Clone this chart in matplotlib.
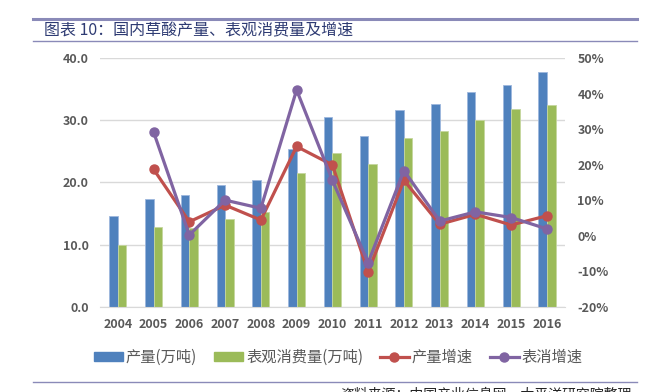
import numpy as np
import matplotlib.pyplot as plt
from matplotlib.lines import Line2D
from matplotlib.patches import Patch

plt.rcParams['font.family'] = ['Noto Sans CJK SC', 'DejaVu Sans']

years = ['2004', '2005', '2006', '2007', '2008', '2009', '2010',
         '2011', '2012', '2013', '2014', '2015', '2016']
output = [14.6, 17.3, 17.9, 19.5, 20.3, 25.4, 30.5, 27.4, 31.6, 32.6, 34.6, 35.7, 37.7]
consumption = [10.0, 12.8, 12.7, 14.1, 15.2, 21.5, 24.8, 22.9, 27.1, 28.3, 30.1, 31.8, 32.4]
output_growth = [np.nan, 18.7, 3.9, 8.6, 4.4, 25.1, 19.9, -10.2, 15.6, 3.2, 6.0, 3.0, 5.6]
cons_growth = [np.nan, 29.2, 0.2, 10.0, 7.7, 41.0, 15.6, -7.6, 18.3, 4.1, 6.7, 5.1, 1.9]

BLUE = '#4f81bd'
GREEN = '#9bbb59'
RED = '#c0504d'
PURPLE = '#8064a2'
GRAY = '#595959'
FRAME = '#8a8ab8'

fig = plt.figure(figsize=(6.53, 3.92), dpi=100)
ax = fig.add_axes([0.153, 0.2176, 0.712, 0.6344])

x = np.arange(len(years))
w = 0.24
ax.bar(x - w / 2, output, w, color=BLUE, edgecolor='#9db7dd', linewidth=0.6, zorder=2)
ax.bar(x + w / 2, consumption, w, color=GREEN, edgecolor='#c5d79e', linewidth=0.6, zorder=2)

ax.set_xlim(-0.5, len(years) - 0.5)
ax.set_ylim(0, 40)
ax.set_yticks([0, 10, 20, 30, 40])
ax.set_yticklabels(['%.1f' % v for v in [0, 10, 20, 30, 40]])
ax.set_xticks(x)
ax.set_xticklabels(years)
ax.grid(axis='y', color='#d9d9d9', linewidth=1, zorder=0)
ax.set_axisbelow(True)
for s in ['top', 'left', 'right']:
    ax.spines[s].set_visible(False)
ax.spines['bottom'].set_color('#d9d9d9')
ax.tick_params(length=0, colors=GRAY, labelsize=9)
ax.tick_params(axis='x', pad=8)
ax.tick_params(axis='y', pad=8)
for t in ax.get_xticklabels() + ax.get_yticklabels():
    t.set_fontweight('bold')

ax2 = ax.twinx()
ax2.plot(x, output_growth, color=RED, lw=2.3, marker='o', ms=6.5, zorder=3)
ax2.plot(x, cons_growth, color=PURPLE, lw=2.3, marker='o', ms=6.5, zorder=3)
ax2.set_ylim(-20, 50)
ax2.set_yticks(range(-20, 51, 10))
ax2.set_yticklabels(['%d%%' % v for v in range(-20, 51, 10)])
for s in ax2.spines.values():
    s.set_visible(False)
ax2.tick_params(length=0, colors=GRAY, labelsize=9, pad=9)
for t in ax2.get_yticklabels():
    t.set_fontweight('bold')

handles = [
    Patch(color=BLUE, label='产量(万吨)'),
    Patch(color=GREEN, label='表观消费量(万吨)'),
    Line2D([], [], color=RED, lw=2.3, marker='o', ms=6.5, label='产量增速'),
    Line2D([], [], color=PURPLE, lw=2.3, marker='o', ms=6.5, label='表消增速'),
]
leg = fig.legend(handles=handles, loc='center', bbox_to_anchor=(0.518, 0.089), ncol=4,
                 frameon=False, fontsize=11, handlelength=1.9, handleheight=0.5,
                 columnspacing=1.1, handletextpad=0.2)
for t in leg.get_texts():
    t.set_color(GRAY)

# header and footer frame lines
fig.add_artist(Line2D([33 / 653, 637 / 653], [1 - 19 / 392] * 2, color=FRAME, lw=2.2))
fig.add_artist(Line2D([33 / 653, 637 / 653], [1 - 41 / 392] * 2, color=FRAME, lw=1.0))
fig.add_artist(Line2D([33 / 653, 637 / 653], [1 - 382 / 392] * 2, color=FRAME, lw=1.0))

fig.text(44 / 653, 1 - 31 / 392, '图表 10：国内草酸产量、表观消费量及增速', fontsize=11.5,
         color='#2e3b73', va='center', ha='left')
fig.text(632 / 653, 1 - 394 / 392, '资料来源：中国产业信息网，太平洋研究院整理', fontsize=10,
         color='#222222', va='center', ha='right', style='italic')

fig.savefig('out.png', dpi=100)
